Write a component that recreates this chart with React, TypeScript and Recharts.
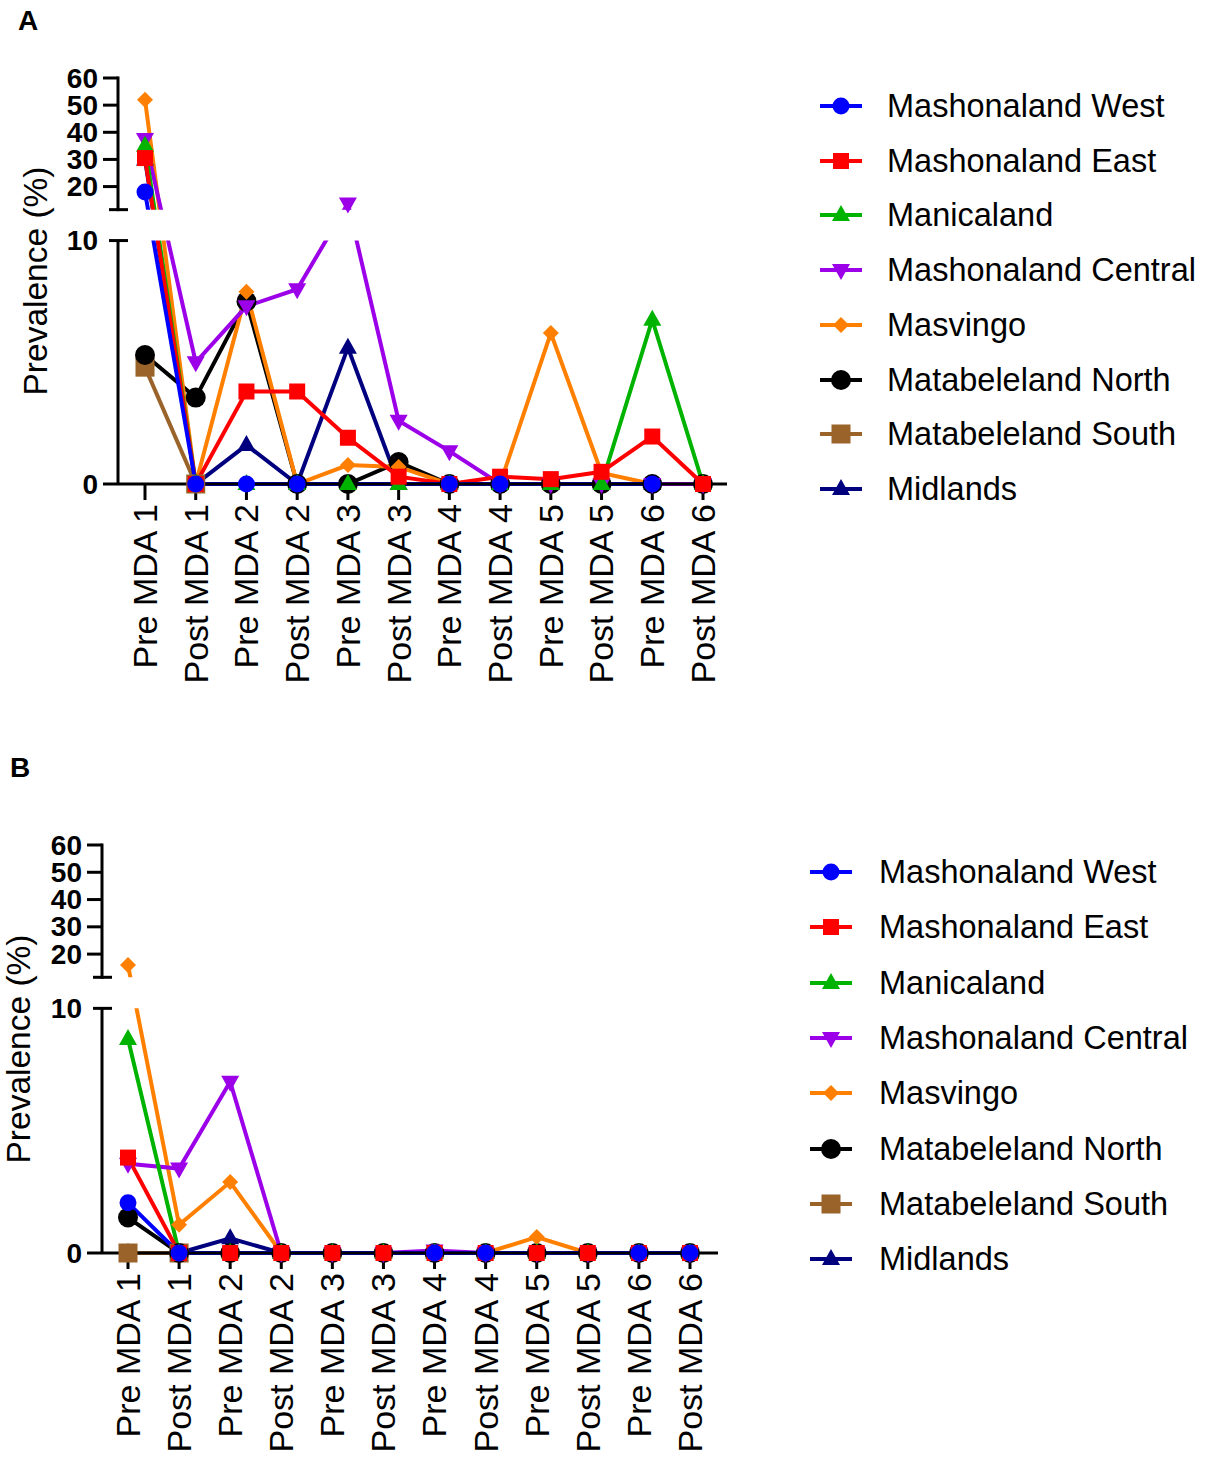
import React from 'react';
import { LineChart, Line, XAxis, YAxis, ReferenceArea } from 'recharts';

const FONT = 'Arial, "Liberation Sans", Helvetica, sans-serif';

const categories = [
  'Pre MDA 1', 'Post MDA 1', 'Pre MDA 2', 'Post MDA 2', 'Pre MDA 3', 'Post MDA 3',
  'Pre MDA 4', 'Post MDA 4', 'Pre MDA 5', 'Post MDA 5', 'Pre MDA 6', 'Post MDA 6',
];

// Panel A prevalence (%) per province
const westA = [18, 0, 0, 0, null, null, 0, 0, null, null, 0, null];
const eastA = [30.5, 0, 3.8, 3.8, 1.9, 0.3, 0, 0.3, 0.2, 0.5, 1.95, 0];
const manicalandA = [35, 0, 0, 0, 0, 0, 0, 0, 0, 0, 6.75, 0];
const centralA = [37.5, 5.0, 7.3, 8.0, 13.8, 2.6, 1.35, 0, 0, 0, 0, 0];
const masvingoA = [52, 0, 7.9, 0, 0.78, 0.7, 0, 0, 6.2, 0.45, 0, 0];
const matNorthA = [5.3, 3.55, 7.5, 0, 0, 0.9, 0, 0, 0, 0, 0, 0];
const matSouthA = [4.8, 0, null, null, null, null, null, null, null, null, null, null];
const midlandsA = [30, 0, 1.6, 0, 5.6, 0, 0, 0, 0, 0, 0, 0];

// Panel B prevalence (%) per province
const westB = [2.05, 0, null, null, null, null, 0, 0, null, null, 0, 0];
const eastB = [3.9, 0, 0, 0, 0, 0, 0, 0, 0, 0, 0, 0];
const manicalandB = [8.75, 0, 0, 0, 0, 0, 0, 0, 0, 0, 0, 0];
const centralB = [3.65, 3.45, 7.0, 0, 0, 0, 0.1, 0, 0, 0, 0, 0];
const masvingoB = [16, 1.15, 2.9, 0, 0, 0, 0, 0, 0.65, 0, 0, 0];
const matNorthB = [1.45, 0, 0, 0, 0, 0, 0, 0, 0, 0, 0, 0];
const matSouthB = [0, 0, null, null, null, null, null, null, null, null, null, null];
const midlandsB = [0, 0, 0.6, 0, 0, 0, 0, 0, 0, 0, 0, 0];

const yTickValues = [0, 10, 20, 30, 40, 50, 60];

// broken axis: 0-10 linear, then a gap, then 11.5-60 compressed
const LOW_TOP = 10;
const HIGH_BOTTOM = 11.5;
const GAP = 1.27;
const HIGH_RATIO = 0.1115;
const toAxis = (v: number | null) =>
  v == null ? null : v <= LOW_TOP ? v : LOW_TOP + GAP + (v - HIGH_BOTTOM) * HIGH_RATIO;
const AXIS_MAX = toAxis(60) as number;
const HIGH_BOTTOM_AXIS = toAxis(HIGH_BOTTOM) as number;

type Shape = 'circle' | 'bigCircle' | 'square' | 'bigSquare' | 'triangle' | 'triangleDown' | 'diamond';

const seriesStyle: { key: string; name: string; color: string; shape: Shape }[] = [
  { key: 'west', name: 'Mashonaland West', color: '#0000FF', shape: 'circle' },
  { key: 'east', name: 'Mashonaland East', color: '#FF0000', shape: 'square' },
  { key: 'manicaland', name: 'Manicaland', color: '#00B300', shape: 'triangle' },
  { key: 'central', name: 'Mashonaland Central', color: '#9B00E8', shape: 'triangleDown' },
  { key: 'masvingo', name: 'Masvingo', color: '#FF8000', shape: 'diamond' },
  { key: 'matNorth', name: 'Matabeleland North', color: '#000000', shape: 'bigCircle' },
  { key: 'matSouth', name: 'Matabeleland South', color: '#996329', shape: 'bigSquare' },
  { key: 'midlands', name: 'Midlands', color: '#00007F', shape: 'triangle' },
];

const buildRows = (series: (number | null)[][]) =>
  categories.map((cat, i) => {
    const row: Record<string, any> = { cat };
    seriesStyle.forEach((s, j) => {
      row[s.key] = toAxis(series[j][i]);
    });
    return row;
  });

const dataA = buildRows([westA, eastA, manicalandA, centralA, masvingoA, matNorthA, matSouthA, midlandsA]);
const dataB = buildRows([westB, eastB, manicalandB, centralB, masvingoB, matNorthB, matSouthB, midlandsB]);

const Marker = ({ cx, cy, shape, color }: { cx: number; cy: number; shape: Shape; color: string }) => {
  switch (shape) {
    case 'circle':
      return <circle cx={cx} cy={cy} r={8.5} fill={color} />;
    case 'bigCircle':
      return <circle cx={cx} cy={cy} r={10} fill={color} />;
    case 'square':
      return <rect x={cx - 8} y={cy - 8} width={16} height={16} fill={color} />;
    case 'bigSquare':
      return <rect x={cx - 9.5} y={cy - 9.5} width={19} height={19} fill={color} />;
    case 'triangle':
      return <polygon points={`${cx},${cy - 10} ${cx + 9},${cy + 6} ${cx - 9},${cy + 6}`} fill={color} />;
    case 'triangleDown':
      return <polygon points={`${cx - 9},${cy - 6} ${cx + 9},${cy - 6} ${cx},${cy + 10}`} fill={color} />;
    case 'diamond':
      return <polygon points={`${cx},${cy - 8} ${cx + 8},${cy} ${cx},${cy + 8} ${cx - 8},${cy}`} fill={color} />;
  }
  return null;
};

const renderDot = (s: (typeof seriesStyle)[number]) => (props: any) => {
  const { cx, cy, index, value } = props;
  const k = `${s.key}-${index}`;
  if (value == null || cy == null || Number.isNaN(cy)) return <g key={k} />;
  return (
    <g key={k}>
      <Marker cx={cx} cy={cy} shape={s.shape} color={s.color} />
    </g>
  );
};

const Y_TICK = 15;
const Y_TICK_GAP = 5;

const makeYTick = (plotHeight: number) => (props: any) => {
  const { x, y, payload } = props;
  const axisX = x + Y_TICK + Y_TICK_GAP;
  const ppu = plotHeight / AXIS_MAX;
  const v = payload.value;
  const line = { stroke: '#000', strokeWidth: 3 };
  if (Math.abs(v - HIGH_BOTTOM_AXIS) < 1e-6) {
    return (
      <g>
        <line x1={axisX - 9} x2={axisX + 10} y1={y} y2={y} {...line} />
        <line x1={axisX} x2={axisX} y1={y} y2={y - (AXIS_MAX - HIGH_BOTTOM_AXIS) * ppu} {...line} strokeLinecap="square" />
      </g>
    );
  }
  const raw = yTickValues.find((t) => Math.abs((toAxis(t) as number) - v) < 1e-6);
  return (
    <g>
      {raw === LOW_TOP ? (
        <>
          <line x1={axisX - 9} x2={axisX + 10} y1={y} y2={y} {...line} />
          <line x1={axisX} x2={axisX} y1={y} y2={y + LOW_TOP * ppu} {...line} />
        </>
      ) : (
        <line x1={axisX - Y_TICK} x2={axisX} y1={y} y2={y} {...line} />
      )}
      <text x={x} y={y} textAnchor="end" dominantBaseline="central" fontFamily={FONT} fontWeight="bold" fontSize={28} fill="#000">
        {raw}
      </text>
    </g>
  );
};

const XTick = (props: any) => {
  const { x, y, payload } = props;
  return (
    <text x={x} y={y} dy="0.35em" transform={`rotate(-90 ${x} ${y})`} textAnchor="end" fontFamily={FONT} fontSize={34} fill="#000">
      {payload.value}
    </text>
  );
};

const yAxisTicks = [0, LOW_TOP, HIGH_BOTTOM, 20, 30, 40, 50, 60].map((t) => toAxis(t) as number);

interface PanelProps {
  data: Record<string, any>[];
  width: number;
  height: number;
  margin: { top: number; right: number; bottom: number; left: number };
  yWidth: number;
  xHeight: number;
  padding: { left: number; right: number };
  labelX: number;
}

const Panel = ({ data, width, height, margin, yWidth, xHeight, padding, labelX }: PanelProps) => {
  const plotHeight = height - margin.top - margin.bottom - xHeight;
  return (
    <LineChart width={width} height={height} data={data} margin={margin}>
      <XAxis
        dataKey="cat"
        interval={0}
        height={xHeight}
        padding={padding}
        tick={<XTick />}
        tickSize={16}
        tickMargin={4}
        axisLine={{ stroke: '#000', strokeWidth: 3 }}
        tickLine={{ stroke: '#000', strokeWidth: 3 }}
      />
      <YAxis
        type="number"
        domain={[0, AXIS_MAX]}
        ticks={yAxisTicks}
        interval={0}
        width={yWidth}
        axisLine={false}
        tickLine={false}
        tickSize={Y_TICK}
        tickMargin={Y_TICK_GAP}
        tick={makeYTick(plotHeight)}
        label={{
          content: (p: any) => {
            const vb = p.viewBox || { x: 0, y: margin.top, height: plotHeight };
            const cx = vb.x + labelX;
            const cy = vb.y + vb.height / 2;
            return (
              <text x={cx} y={cy} transform={`rotate(-90 ${cx} ${cy})`} textAnchor="middle" fontFamily={FONT} fontSize={33.5} fill="#000">
                Prevalence (%)
              </text>
            );
          },
        }}
      />
      {[...seriesStyle].reverse().map((s) => (
        <Line
          key={s.key}
          type="linear"
          dataKey={s.key}
          name={s.name}
          stroke={s.color}
          strokeWidth={4}
          dot={renderDot(s)}
          activeDot={false}
          connectNulls={s.key === 'west'}
          isAnimationActive={false}
        />
      ))}
      <ReferenceArea y1={LOW_TOP} y2={HIGH_BOTTOM_AXIS} fill="#ffffff" fillOpacity={1} stroke="none" zIndex={450} />
    </LineChart>
  );
};

const SeriesLegend = ({ left, top, rowGap, textLeft }: { left: number; top: number; rowGap: number; textLeft: number }) => (
  <div style={{ position: 'absolute', left, top }}>
    {seriesStyle.map((s, i) => (
      <div key={s.key} style={{ position: 'absolute', left: 0, top: i * rowGap }}>
        <svg width={44} height={30} style={{ position: 'absolute', left: 0, top: -15 }}>
          <line x1={0} x2={42} y1={15} y2={15} stroke={s.color} strokeWidth={4} />
          <Marker cx={21} cy={15} shape={s.shape} color={s.color} />
        </svg>
        <span
          style={{
            position: 'absolute',
            left: textLeft,
            top: -16,
            fontFamily: FONT,
            fontSize: 32.5,
            lineHeight: '32px',
            whiteSpace: 'nowrap',
            color: '#000',
          }}
        >
          {s.name}
        </span>
      </div>
    ))}
  </div>
);

const letterStyle: React.CSSProperties = {
  position: 'absolute',
  fontFamily: FONT,
  fontWeight: 'bold',
  fontSize: 28,
  lineHeight: '30px',
};

export default function App() {
  return (
    <div style={{ position: 'absolute', left: 0, top: 0, width: 1212, height: 1458, background: '#fff', overflow: 'hidden' }}>
      <div style={{ ...letterStyle, left: 18, top: 6 }}>A</div>
      <div style={{ position: 'absolute', left: 0, top: 0 }}>
        <Panel
          data={dataA}
          width={760}
          height={700}
          margin={{ top: 78, right: 33, bottom: 0, left: 0 }}
          yWidth={118}
          xHeight={216}
          padding={{ left: 27, right: 24 }}
          labelX={47}
        />
      </div>
      <SeriesLegend left={820} top={106} rowGap={54.7} textLeft={67} />

      <div style={{ ...letterStyle, left: 10, top: 753 }}>B</div>
      <div style={{ position: 'absolute', left: 0, top: 800 }}>
        <Panel
          data={dataB}
          width={760}
          height={658}
          margin={{ top: 45, right: 42, bottom: 0, left: 0 }}
          yWidth={102}
          xHeight={205}
          padding={{ left: 26, right: 28 }}
          labelX={30}
        />
      </div>
      <SeriesLegend left={810} top={872} rowGap={55.3} textLeft={69} />
    </div>
  );
}
